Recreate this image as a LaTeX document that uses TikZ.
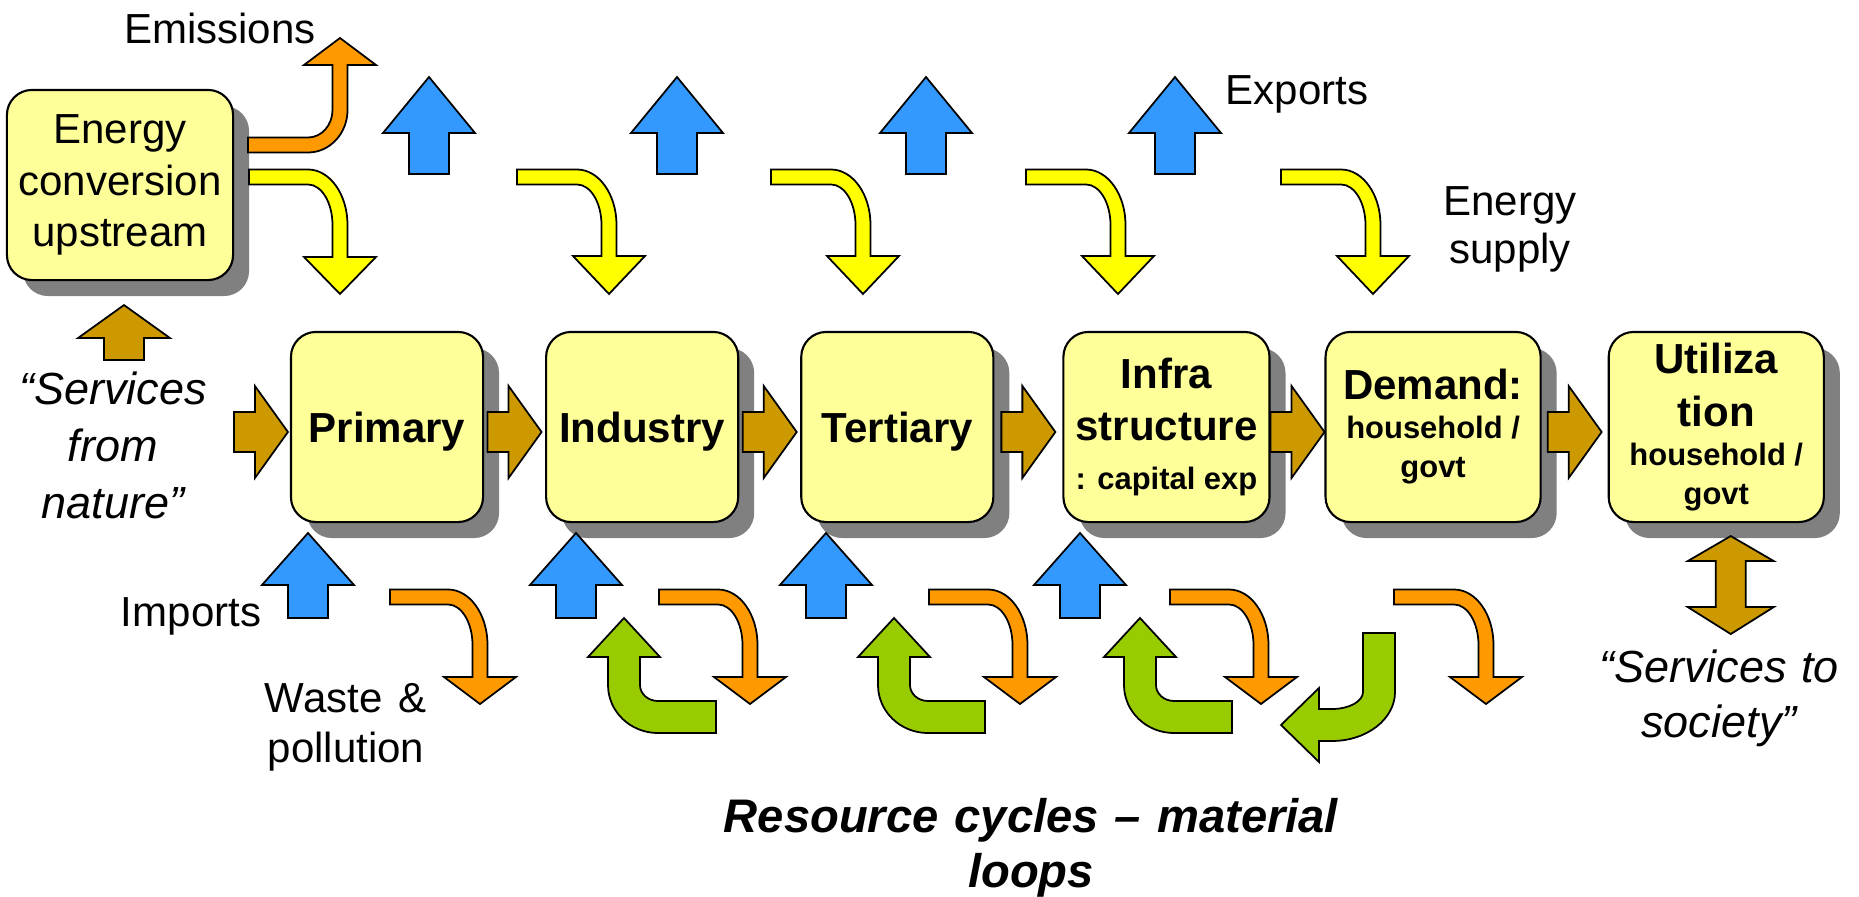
\documentclass[tikz,border=0pt]{standalone}
\usepackage{fontspec}
\setmainfont{Liberation Sans}
\usetikzlibrary{positioning,calc,shadows}

\definecolor{boxfill}{HTML}{FFFF99}
\definecolor{shadowgray}{HTML}{808080}
\definecolor{supplyyellow}{HTML}{FFFF00}
\definecolor{wasteorange}{HTML}{FF9900}
\definecolor{tradeblue}{HTML}{3399FF}
\definecolor{loopgreen}{HTML}{99CC00}
\definecolor{flowbrown}{HTML}{CC9900}

\newcommand{\boxbig}{\fontsize{11.95}{14.8}\selectfont\bfseries}
\newcommand{\boxsmall}{\centering\fontsize{8.8}{11.1}\selectfont\bfseries}

\tikzset{
    sector/.style={
        draw, line width=0.6pt, rounded corners=0.25cm, fill=boxfill,
        minimum height=1.9cm, inner sep=0pt, outer sep=0pt,
        text width=1.9cm, align=center, font=\boxbig,
        execute at begin node={\spaceskip=0pt\xspaceskip=0pt},
        drop shadow={shadow xshift=0.16cm, shadow yshift=-0.16cm,
            fill=shadowgray, opacity=1}
    },
    oneline/.style={text depth=0pt},
    blockarr/.style={draw=black, line width=0.5pt, line join=miter},
    lbl/.style={font=\fontsize{11.95}{14.4}\selectfont, align=center, inner sep=0pt,
        execute at begin node={\spaceskip=0pt\xspaceskip=0pt}}
}

% block arrow pointing up: centre x, tip y, head y, foot y
\newcommand{\tradearrow}[4]{%
  \filldraw[blockarr, fill=tradeblue]
    ({#1-20},#4) -- ({#1-20},#3) -- ({#1-46},#3) -- (#1,#2)
    -- ({#1+46},#3) -- ({#1+20},#3) -- ({#1+20},#4) -- cycle;}

% flow arrow pointing right, centred on #1
\newcommand{\flowarrow}[1]{%
  \filldraw[blockarr, fill=flowbrown, shift={(#1)}]
    (-27,-15) -- (-6,-15) -- (-6,-41) -- (27,5)
    -- (-6,51) -- (-6,25) -- (-27,25) -- cycle;}

% bent arrow, right then down: colour, start x, shaft y, stem x, head y, tip y
\newcommand{\bentdown}[6]{%
  \filldraw[blockarr, fill=#1]
    (#2,{#3-7.5}) -- ({#4-32},{#3-7.5})
    arc[start angle=90, end angle=0, x radius=0.395cm, y radius=0.555cm]
    -- ({#4+7.5},#5) -- ({#4+36},#5) -- (#4,#6) -- ({#4-36},#5)
    -- ({#4-7.5},#5) -- ({#4-7.5},{#3+48})
    arc[start angle=0, end angle=90, x radius=0.245cm, y radius=0.405cm]
    -- (#2,{#3+7.5}) -- cycle;}

% bent arrow, right then up
\newcommand{\bentup}[6]{%
  \filldraw[blockarr, fill=#1]
    (#2,{#3+7.5}) -- ({#4-32},{#3+7.5})
    arc[start angle=270, end angle=360, x radius=0.395cm, y radius=0.425cm]
    -- ({#4+7.5},#5) -- ({#4+36},#5) -- (#4,#6) -- ({#4-36},#5)
    -- ({#4-7.5},#5) -- ({#4-7.5},{#3-35})
    arc[start angle=0, end angle=-90, x radius=0.245cm, y radius=0.275cm]
    -- (#2,{#3-7.5}) -- cycle;}

% material loop, left then up: right end x, shaft y, stem x
\newcommand{\loopup}[3]{%
  \filldraw[blockarr, fill=loopgreen]
    (#1,{#2-16}) -- ({#3+34},{#2-16})
    arc[start angle=270, end angle=180, x radius=0.18cm, y radius=0.16cm]
    -- ({#3+16},{#2-60}) -- ({#3+36},{#2-60}) -- (#3,{#2-99})
    -- ({#3-36},{#2-60}) -- ({#3-16},{#2-60}) -- ({#3-16},{#2-32})
    arc[start angle=180, end angle=270, x radius=0.5cm, y radius=0.48cm]
    -- (#1,{#2+16}) -- cycle;}

% material loop, down then left: stem x, top y, shaft y, head x, tip x
\newcommand{\loopleft}[5]{%
  \filldraw[blockarr, fill=loopgreen]
    ({#1-16},#2) -- ({#1-16},{#3-33})
    arc[start angle=0, end angle=-90, x radius=0.31cm, y radius=0.17cm]
    -- (#4,{#3-16}) -- (#4,{#3-37}) -- (#5,#3) -- (#4,{#3+37})
    -- (#4,{#3+16}) -- ({#1-47},{#3+16})
    arc[start angle=270, end angle=360, x radius=0.63cm, y radius=0.49cm]
    -- ({#1+16},#2) -- cycle;}

\begin{document}
\begin{tikzpicture}[x=0.01cm, y=-0.01cm]
\useasboundingbox (0,0) rectangle (1859,897);

% ============ Sectors ============

\node[sector, minimum width=2.26cm, text width=2.2cm,
    font=\fontsize{11.95}{14.65}\selectfont] (energy) at (120,185)
    {Energy\\conversion\\upstream};

\node[sector, oneline, minimum width=1.92cm] (prim) at (387,427) {Primary};
\node[sector, oneline, minimum width=1.92cm, right=0.63cm of prim] (ind) {Industry};
\node[sector, oneline, minimum width=1.92cm, right=0.63cm of ind] (tert) {Tertiary};
\node[sector, minimum width=2.06cm, text width=2.0cm, right=0.70cm of tert] (infra)
    {Infra\\structure\par{\centering\fontsize{8.8}{13.9}\selectfont : capital exp\par}};
\node[sector, minimum width=2.15cm, text width=2.1cm, right=0.56cm of infra] (demand)
    {Demand:\par{\boxsmall household /\\govt\par}};
\node[sector, minimum width=2.15cm, text width=2.1cm, right=0.68cm of demand] (util)
    {{\fontsize{11.95}{15.1}\selectfont Utiliza\\tion\par}{\boxsmall household /\\govt\par}};

% ============ Flows between sectors ============

\flowarrow{$(prim.west)+(-30,0)$}
\flowarrow{$(prim.east)!0.5!(ind.west)$}
\flowarrow{$(ind.east)!0.5!(tert.west)$}
\flowarrow{$(tert.east)!0.5!(infra.west)$}
\flowarrow{$(infra.east)!0.5!(demand.west)$}
\flowarrow{$(demand.east)!0.5!(util.west)$}

% services from nature into upstream
\filldraw[blockarr, fill=flowbrown, shift={(energy.south)}]
    (-16,80) -- (-16,58) -- (-42,58) -- (4,25) -- (50,58) -- (24,58) -- (24,80) -- cycle;

% services to society
\filldraw[blockarr, fill=flowbrown, shift={(util.south)}]
    (-0.5,39) -- (-28.5,39) -- (14.5,14) -- (57.5,39) -- (29.5,39) -- (29.5,85)
    -- (57.5,85) -- (14.5,112) -- (-28.5,85) -- (-0.5,85) -- cycle;

% ============ Energy ============

\bentup{wasteorange}{248}{145}{340}{65}{38}
\bentdown{supplyyellow}{249}{177}{340}{257}{294}
\bentdown{supplyyellow}{517}{177}{609}{256}{294}
\bentdown{supplyyellow}{771}{177}{863}{256}{294}
\bentdown{supplyyellow}{1026}{177}{1118}{256}{294}
\bentdown{supplyyellow}{1281}{177}{1373}{256}{294}

% ============ Trade ============

\tradearrow{429}{77}{133}{174}
\tradearrow{677}{77}{133}{174}
\tradearrow{926}{77}{133}{174}
\tradearrow{1175}{77}{133}{174}

\tradearrow{308}{533}{585}{618}
\tradearrow{576}{533}{585}{618}
\tradearrow{826}{533}{585}{618}
\tradearrow{1080}{533}{585}{618}

% ============ Waste and loops ============

\bentdown{wasteorange}{390}{597}{480}{677}{704}
\bentdown{wasteorange}{659}{597}{750}{677}{704}
\bentdown{wasteorange}{929}{597}{1020}{677}{704}
\bentdown{wasteorange}{1170}{597}{1261}{677}{704}
\bentdown{wasteorange}{1394}{597}{1486}{677}{704}

\loopup{716}{717}{624}
\loopup{985}{717}{894}
\loopup{1232}{717}{1140}
\loopleft{1379}{633}{725}{1319}{1281}

% Labels
\node[lbl] (emis) at (220,28) {Emissions};
\node[lbl] (exports) at (1297,94) {Exports};
\node[lbl, text width=3cm, font=\fontsize{11.95}{13.65}\selectfont] (supply) at (1510,229)
    {Energy\\supply};
\node[lbl, text width=3cm, font=\fontsize{12.8}{16.2}\selectfont\itshape] (natin) at (113,445)
    {“Services\\from\\nature”};
\node[lbl] (imports) at (191,616) {Imports};
\node[lbl, text width=3cm, font=\fontsize{11.95}{14.2}\selectfont] (waste) at (346,727)
    {Waste \&\\pollution};
\node[lbl, text width=3cm, font=\fontsize{12.8}{15.65}\selectfont\itshape] (socout) at (1719,698)
    {“Services to\\society”};
\node[lbl, text width=7cm, font=\fontsize{13.4}{15.65}\selectfont\bfseries\itshape] (cycles)
    at (1031,848) {Resource cycles – material\\loops};

\end{tikzpicture}
\end{document}
